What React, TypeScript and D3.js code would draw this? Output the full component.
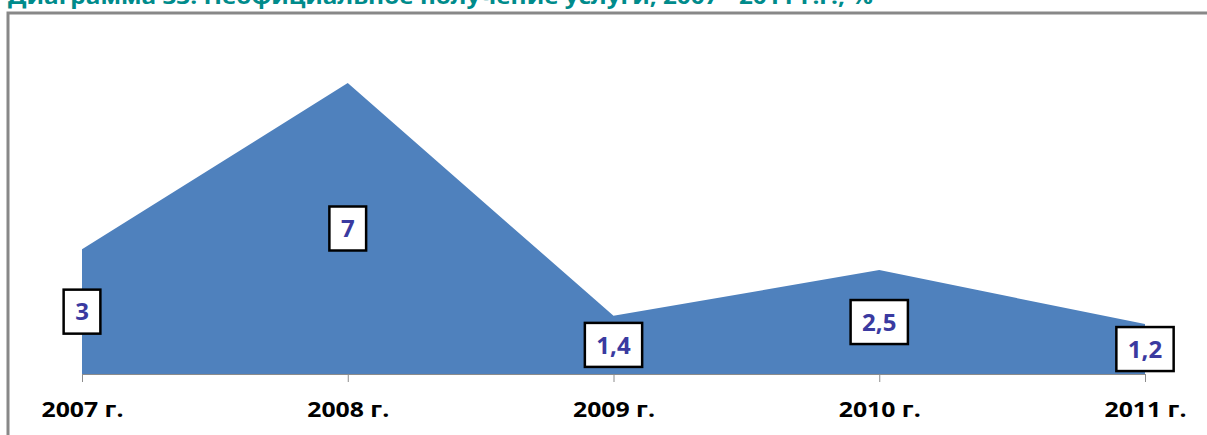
import React, { useEffect, useRef } from "react";
import * as d3 from "d3";

const years = ["2007 г.", "2008 г.", "2009 г.", "2010 г.", "2011 г."];
const values = [3, 7, 1.4, 2.5, 1.2];
const labels = ["3", "7", "1,4", "2,5", "1,2"];
const title = "Диаграмма 33. Неофициальное получение услуги, 2007 - 2011 г.г., %";

const W = 1207;
const H = 435;

export default function App() {
  const ref = useRef<SVGSVGElement>(null);

  useEffect(() => {
    const svg = d3.select(ref.current);
    svg.selectAll("*").remove();

    const x = d3.scalePoint<string>().domain(years).range([82, 1145]);
    const y = d3.scaleLinear().domain([0, 7]).range([374, 83]);

    // frame
    svg.append("path")
      .attr("d", `M8,${H} L8,13 L${W},13`)
      .attr("fill", "none")
      .attr("stroke", "#888")
      .attr("stroke-width", 3);

    // title (cut at the top, as in the source)
    svg.append("text")
      .attr("x", 8)
      .attr("y", 4)
      .attr("fill", "#008b8b")
      .attr("font-family", "'Open Sans', sans-serif")
      .attr("font-weight", "bold")
      .attr("font-size", 22)
      .attr("textLength", 865)
      .attr("lengthAdjust", "spacingAndGlyphs")
      .text(title);

    const data = years.map((yr, i) => ({ yr, v: values[i], lab: labels[i] }));

    const area = d3.area<{ yr: string; v: number }>()
      .x(d => x(d.yr)!)
      .y0(y(0))
      .y1(d => y(d.v));

    svg.append("path")
      .datum(data)
      .attr("d", area)
      .attr("fill", "#4f81bd");

    // x axis
    const axis = svg.append("g")
      .attr("transform", `translate(0,${y(0)})`)
      .call(d3.axisBottom(x).tickSize(8).tickSizeOuter(0).tickPadding(20));
    axis.select(".domain").attr("stroke", "#8c8c8c");
    axis.selectAll(".tick line").attr("stroke", "#8c8c8c");
    axis.selectAll(".tick text")
      .attr("fill", "#000")
      .attr("font-family", "'Open Sans', sans-serif")
      .attr("font-weight", "bold")
      .attr("font-size", 21)
      .attr("textLength", 82)
      .attr("lengthAdjust", "spacingAndGlyphs");

    // data labels
    const g = svg.append("g").selectAll("g")
      .data(data)
      .enter()
      .append("g")
      .attr("transform", d => `translate(${x(d.yr)},${(y(0) + y(d.v)) / 2})`);

    const rects = g.append("rect")
      .attr("fill", "#fff")
      .attr("stroke", "#000")
      .attr("stroke-width", 2.5);

    const texts = g.append("text")
      .attr("text-anchor", "middle")
      .attr("dy", "0.36em")
      .attr("fill", "#3a3aa0")
      .attr("font-family", "'Open Sans', sans-serif")
      .attr("font-weight", "bold")
      .attr("font-size", 24)
      .text(d => d.lab);

    texts.each(function (_d, i) {
      const w = (this as SVGTextElement).getComputedTextLength() + 23;
      d3.select(rects.nodes()[i])
        .attr("x", -w / 2)
        .attr("y", -22)
        .attr("width", w)
        .attr("height", 44);
    });
  }, []);

  return (
    <svg
      ref={ref}
      width={W}
      height={H}
      style={{ position: "absolute", left: 0, top: 0, background: "#fff" }}
    />
  );
}
